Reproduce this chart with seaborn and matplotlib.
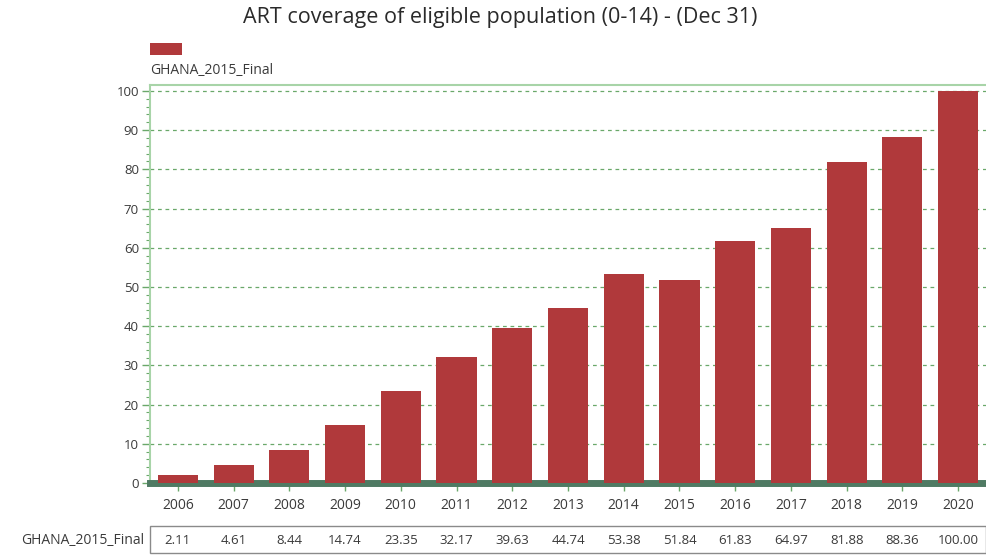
import matplotlib
matplotlib.use("Agg")
import matplotlib.pyplot as plt
import matplotlib.transforms as mtransforms
from matplotlib.patches import Rectangle
from matplotlib.ticker import MultipleLocator
import seaborn as sns
import pandas as pd

years = ["2006", "2007", "2008", "2009", "2010", "2011", "2012", "2013",
         "2014", "2015", "2016", "2017", "2018", "2019", "2020"]
coverage = [2.11, 4.61, 8.44, 14.74, 23.35, 32.17, 39.63, 44.74,
            53.38, 51.84, 61.83, 64.97, 81.88, 88.36, 100.00]
series_name = "GHANA_2015_Final"
title = "ART coverage of eligible population (0-14) - (Dec 31)"

bar_color = "#b0393b"
frame_green = "#a8d4a8"
grid_green = "#6aa86a"
base_color = "#4f7a63"
text_color = "#3a3a3a"

sns.set_theme(style="white")
plt.rcParams["font.family"] = ["Open Sans", "DejaVu Sans"]

df = pd.DataFrame({"year": years, "value": coverage})

W, H = 986, 555
fig = plt.figure(figsize=(W / 100, H / 100), dpi=100)
ax = fig.add_axes([150 / W, 1 - 483 / H, 836 / W, 398 / H])

sns.barplot(data=df, x="year", y="value", color=bar_color, width=0.72,
            saturation=1, ax=ax, zorder=3, edgecolor="none")

ax.set_xlim(-0.5, len(years) - 0.5)
ax.set_ylim(0, 101.5)
ax.set_xlabel("")
ax.set_ylabel("")

ax.yaxis.set_major_locator(MultipleLocator(10))
ax.yaxis.set_minor_locator(MultipleLocator(2))
ax.grid(axis="y", which="major", color=grid_green, linestyle=(0, (3, 3)),
        linewidth=0.9, zorder=0)

ax.spines["right"].set_visible(False)
ax.spines["top"].set_color(frame_green)
ax.spines["top"].set_linewidth(1.5)
ax.spines["left"].set_color(frame_green)
ax.spines["left"].set_linewidth(1.5)
ax.spines["bottom"].set_color(base_color)
ax.spines["bottom"].set_linewidth(5)

ax.tick_params(axis="y", which="major", length=6, width=1, color=grid_green,
               labelsize=9.5, labelcolor=text_color, pad=2, left=True)
ax.tick_params(axis="y", which="minor", length=3, width=0.8, color=grid_green,
               left=True)
ax.tick_params(axis="x", length=6, width=1, color=grid_green,
               labelsize=10, labelcolor=text_color, pad=5, bottom=True)

fig.text(500 / W, 1 - 18 / H, title, ha="center", va="center", fontsize=15.5,
         color="#2a2a2a")

# legend swatch and label above the plot frame
fig.patches.append(Rectangle((150 / W, 1 - 55 / H), 32 / W, 12 / H,
                             transform=fig.transFigure, facecolor=bar_color,
                             edgecolor="none"))
fig.text(150 / W, 1 - 71 / H, series_name, ha="left", va="center",
         fontsize=10, color=text_color)

# data table under the axis, one cell per bar
row_y = 1 - 541 / H
box = mtransforms.blended_transform_factory(ax.transAxes, fig.transFigure)
ax.add_patch(Rectangle((0, 1 - 553 / H), 1.0, 27 / H, transform=box,
                       facecolor="none", edgecolor="#8a8a8a", linewidth=1.0,
                       clip_on=False))
ax.text(-6 / 836, row_y, series_name, transform=box, ha="right",
        va="center", fontsize=10, color=text_color, clip_on=False)
cells = mtransforms.blended_transform_factory(ax.transData, fig.transFigure)
for i, v in enumerate(coverage):
    ax.text(i, row_y, f"{v:.2f}", transform=cells, ha="center",
            va="center", fontsize=9.5, color=text_color, clip_on=False)

fig.savefig("out.png", dpi=100)
